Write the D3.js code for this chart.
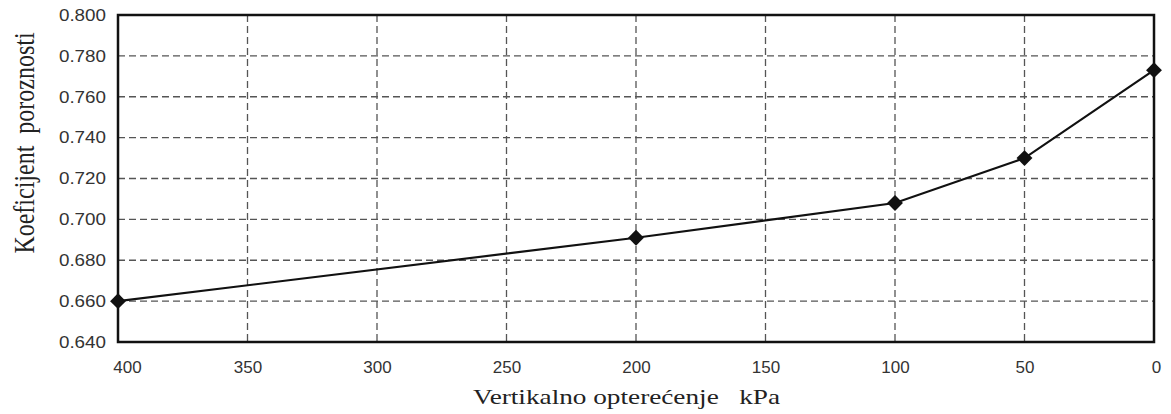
<!DOCTYPE html>
<html><head><meta charset="utf-8">
<script src="https://cdn.jsdelivr.net/npm/d3@7"></script>
<style>body{margin:0;background:#fff}svg{display:block}</style>
</head><body><svg id="c" width="1171" height="414"></svg>
<script>
const loads = [400, 200, 100, 50, 0];
const voidRatio = [0.660, 0.691, 0.708, 0.730, 0.773];
const xTicks = [400, 350, 300, 250, 200, 150, 100, 50, 0];
const yTicks = [0.640, 0.660, 0.680, 0.700, 0.720, 0.740, 0.760, 0.780, 0.800];
const xTitle = "Vertikalno opterećenje   kPa";
const yTitle = "Koeficijent  poroznosti";

const svg = d3.select("#c");
const L = 118, R = 1154, T = 15, B = 342;
const x = d3.scaleLinear().domain([400, 0]).range([L, R]);
const y = d3.scaleLinear().domain([0.640, 0.800]).range([B, T]);
const sans = "Liberation Sans, Arial, sans-serif";
const serif = "Liberation Serif, Times New Roman, serif";

// grid
const grid = svg.append("g").attr("stroke", "#555").attr("stroke-width", 1.3).attr("stroke-dasharray", "7,4");
grid.selectAll(".gx").data(xTicks.filter(d => d !== 400 && d !== 0)).join("line")
  .attr("x1", d => x(d)).attr("x2", d => x(d)).attr("y1", T).attr("y2", B);
grid.selectAll(".gy").data(yTicks.filter(d => d !== 0.640 && d !== 0.800)).join("line")
  .attr("y1", d => y(d)).attr("y2", d => y(d)).attr("x1", L).attr("x2", R);

// frame
svg.append("rect").attr("x", L).attr("y", T).attr("width", R - L).attr("height", B - T)
  .attr("fill", "none").attr("stroke", "#111").attr("stroke-width", 2.5);

// x axis labels
const xAxis = svg.append("g").attr("transform", `translate(0,${B})`)
  .call(d3.axisBottom(x).tickValues(xTicks).tickFormat(d3.format("d")).tickSize(0).tickPadding(19));
xAxis.select(".domain").remove();
xAxis.selectAll("text").attr("font-family", sans).attr("font-size", 17).attr("fill", "#333")
  .attr("dx", d => d === 400 ? 9 : (d === 0 ? 2 : 0));

// y axis labels (slightly widened like the reference)
const yAxis = svg.append("g").attr("transform", `translate(${L},0)`)
  .call(d3.axisLeft(y).tickValues(yTicks).tickFormat(d3.format(".3f")).tickSize(0).tickPadding(12));
yAxis.select(".domain").remove();
yAxis.selectAll(".tick text").attr("font-family", sans).attr("font-size", 16.5).attr("fill", "#333")
  .attr("x", 0).attr("dx", 0)
  .attr("transform", "translate(-12,0) scale(1.14,1)");

// line
const pts = loads.map((d, i) => [d, voidRatio[i]]);
svg.append("path").datum(pts)
  .attr("d", d3.line().x(d => x(d[0])).y(d => y(d[1])))
  .attr("fill", "none").attr("stroke", "#111").attr("stroke-width", 2.2);

svg.selectAll(".m").data(pts).join("path")
  .attr("transform", d => `translate(${x(d[0])},${y(d[1])})`)
  .attr("d", d3.symbol(d3.symbolDiamond2, 160)())
  .attr("fill", "#111");

// titles
svg.append("text").attr("x", 473).attr("y", 404)
  .attr("font-family", serif).attr("font-size", 22).attr("fill", "#222")
  .attr("textLength", 307).attr("lengthAdjust", "spacingAndGlyphs")
  .style("white-space", "pre").text(xTitle);
svg.append("text").attr("transform", `translate(34,143) scale(1.25,1) rotate(-90)`).attr("text-anchor", "middle")
  .attr("font-family", serif).attr("font-size", 24).attr("fill", "#222")
  .style("white-space", "pre").text(yTitle);
</script></body></html>
